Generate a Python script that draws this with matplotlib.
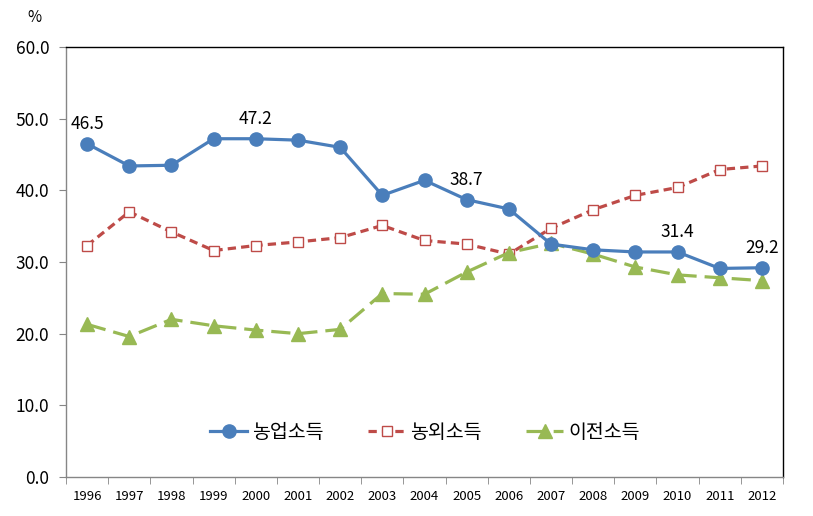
import matplotlib
matplotlib.use("Agg")
import matplotlib.pyplot as plt
import numpy as np

plt.rcParams['font.family'] = ['Noto Sans CJK KR', 'DejaVu Sans']

years = ['1996', '1997', '1998', '1999', '2000', '2001', '2002', '2003', '2004',
         '2005', '2006', '2007', '2008', '2009', '2010', '2011', '2012']
farm = [46.5, 43.4, 43.5, 47.2, 47.2, 47.0, 46.0, 39.3, 41.4, 38.7, 37.4, 32.5,
        31.7, 31.4, 31.4, 29.1, 29.2]
nonfarm = [32.3, 37.0, 34.2, 31.6, 32.3, 32.8, 33.4, 35.1, 33.0, 32.5, 31.1, 34.7,
           37.3, 39.3, 40.4, 42.9, 43.4]
transfer = [21.3, 19.6, 22.0, 21.1, 20.5, 20.0, 20.6, 25.6, 25.5, 28.6, 31.3, 32.6,
            31.1, 29.3, 28.2, 27.8, 27.4]
names = ['농업소득', '농외소득', '이전소득']
labeled = {0: '46.5', 4: '47.2', 9: '38.7', 14: '31.4', 16: '29.2'}
yticks = [0, 10, 20, 30, 40, 50, 60]

fig = plt.figure(figsize=(8.13, 5.16), dpi=100)
ax = fig.add_axes([66/813, 1-477/516, (783-66)/813, (477-47)/516])

x = np.arange(len(years))
ax.plot(x, farm, color='#4A7EBB', lw=2.3, marker='o', ms=9.5, label=names[0], zorder=3)
ax.plot(x, nonfarm, color='#BE4B48', lw=2.3, ls=(0, (2.6, 1.6)), marker='s', ms=7.5,
        mfc='white', mec='#BE4B48', mew=1.0, label=names[1], zorder=2)
ax.plot(x, transfer, color='#98B954', lw=2.3, ls=(0, (6, 2.5)), marker='^', ms=9.5,
        label=names[2], zorder=2)

for i, t in labeled.items():
    ax.annotate(t, (x[i], farm[i]), xytext=(0, 8), textcoords='offset points',
                ha='center', va='bottom', fontsize=12.5, color='black')

ax.set_xlim(-0.5, len(years) - 0.5)
ax.set_ylim(0, 60)
ax.set_yticks(yticks)
ax.set_yticklabels([f'{v:.1f}' for v in yticks], fontsize=12.5)
ax.set_xticks(x)
ax.set_xticklabels(years, fontsize=9.5)
ax.set_xticks(np.arange(-0.5, len(years)), minor=True)
ax.tick_params(axis='x', which='major', length=0, pad=9)
ax.tick_params(axis='x', which='minor', length=5, direction='out', color='#868686')
ax.tick_params(axis='y', length=5, direction='out', color='#868686', pad=7)

for s in ['left', 'bottom']:
    ax.spines[s].set_color('#868686')
    ax.spines[s].set_linewidth(1.0)
for s in ['top', 'right']:
    ax.spines[s].set_color('black')
    ax.spines[s].set_linewidth(1.0)

fig.text(34/813, 1-17/516, '%', fontsize=11, ha='center', va='center')

leg = ax.legend(loc='center', bbox_to_anchor=((425 - 66) / 717, (477 - 432) / 430),
                ncol=3, frameon=False, fontsize=14, handlelength=1.9,
                columnspacing=2.3, handletextpad=0.25)

fig.savefig('out.png', dpi=100)
